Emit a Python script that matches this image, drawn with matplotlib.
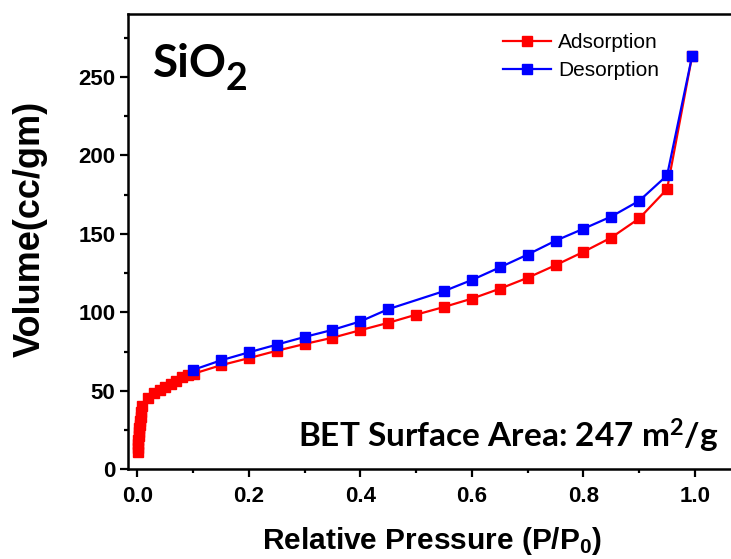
import matplotlib
matplotlib.use("Agg")
import matplotlib.pyplot as plt
from matplotlib.ticker import MultipleLocator

# adsorption branch (P/P0, volume cc/g)
ads_p = [0.0008, 0.0012, 0.0016, 0.002, 0.0025, 0.003, 0.0035, 0.004, 0.0048,
         0.0058, 0.007, 0.0085, 0.02, 0.03, 0.04, 0.05, 0.06, 0.07, 0.08, 0.09,
         0.102, 0.15, 0.2, 0.25, 0.3, 0.35, 0.4, 0.45, 0.5, 0.55, 0.6, 0.65,
         0.7, 0.75, 0.8, 0.85, 0.9, 0.95, 0.995]
ads_v = [11.2, 13.5, 16, 18.5, 21, 23.5, 26, 28.5, 31,
         33.5, 36.5, 40.5, 45.5, 48.5, 50.5, 52.5, 54.5, 56.5, 58.5, 60,
         61, 66.3, 70.8, 75.5, 79.8, 83.8, 88.6, 93.3, 98.5, 103.4, 108.7, 115,
         122, 130, 138.5, 147.6, 159.8, 178.5, 263.5]

# desorption branch
des_p = [0.995, 0.95, 0.9, 0.85, 0.8, 0.75, 0.7, 0.65, 0.6, 0.55, 0.45,
         0.4, 0.35, 0.3, 0.25, 0.2, 0.15, 0.1]
des_v = [263.5, 187.2, 171, 161, 153.2, 145.6, 136.8, 128.6, 120.6, 113.5, 102,
         94.2, 88.8, 84.3, 79.4, 74.5, 69.4, 63.3]

plt.rcParams['font.family'] = ['Liberation Sans', 'DejaVu Sans']
plt.rcParams['mathtext.default'] = 'regular'

fig = plt.figure(figsize=(7.31, 5.59), dpi=100)
ax = fig.add_axes([128/731, 1 - 469.3/559, 1 - 128/731, (469.3 - 14)/559])

ax.plot(ads_p, ads_v, color='#ff0000', marker='s', ms=7.5, lw=1.6,
        mec='#ff0000', label='Adsorption')
ax.plot(des_p, des_v, color='#0000ff', marker='s', ms=7.5, lw=1.6,
        mec='#0000ff', label='Desorption')

ax.set_xlim(-0.0167, 1.0646)
ax.set_ylim(0, 290)
ax.xaxis.set_minor_locator(MultipleLocator(0.1))
ax.yaxis.set_major_locator(MultipleLocator(50))
ax.yaxis.set_minor_locator(MultipleLocator(25))
ax.set_xticks([0, 0.2, 0.4, 0.6, 0.8, 1.0])
ax.set_xticklabels(['0.0', '0.2', '0.4', '0.6', '0.8', '1.0'])

ax.spines['right'].set_visible(False)
for s in ['left', 'top', 'bottom']:
    ax.spines[s].set_linewidth(1.8)
ax.tick_params(which='major', direction='out', length=6, width=1.6,
               labelsize=16, pad=3)
ax.tick_params(axis='x', which='major', pad=6)
ax.tick_params(which='minor', direction='out', length=3, width=1.6)
ax.tick_params(top=False, right=False)
for lab in ax.get_xticklabels() + ax.get_yticklabels():
    lab.set_fontweight('bold')

ax.set_xlabel('Relative Pressure (P/P$_0$)', fontsize=21.5, fontweight='bold')
ax.xaxis.set_label_coords(0.5 * (262 + 603) / 731, 1 - 541/559,
                          transform=fig.transFigure)
ax.xaxis.label.set_va('center')
ax.set_ylabel('Volume(cc/gm)', fontsize=26, fontweight='bold')
ax.yaxis.set_label_coords(30/731, 1 - 229/559, transform=fig.transFigure)
ax.yaxis.label.set_va('center')

ax.text(153/731, 1 - 77/559, 'SiO', transform=fig.transFigure,
        family='Lato', fontweight='bold', fontsize=33)
ax.text(226/731, 1 - 90/559, '2', transform=fig.transFigure,
        family='Lato', fontweight='bold', fontsize=27)
ax.text(718/731, 1 - 448/559, 'BET Surface Area: 247 m$^2$/g',
        transform=fig.transFigure, ha='right', family='Lato',
        fontweight='bold', fontsize=24)

ax.legend(loc='upper left', bbox_to_anchor=(503/731, 1 - 33/559),
          bbox_transform=fig.transFigure, frameon=False, fontsize=15,
          handlelength=2.3, handletextpad=0.35, borderpad=0,
          borderaxespad=0, labelspacing=0.45)

fig.savefig('out.png', dpi=100)
